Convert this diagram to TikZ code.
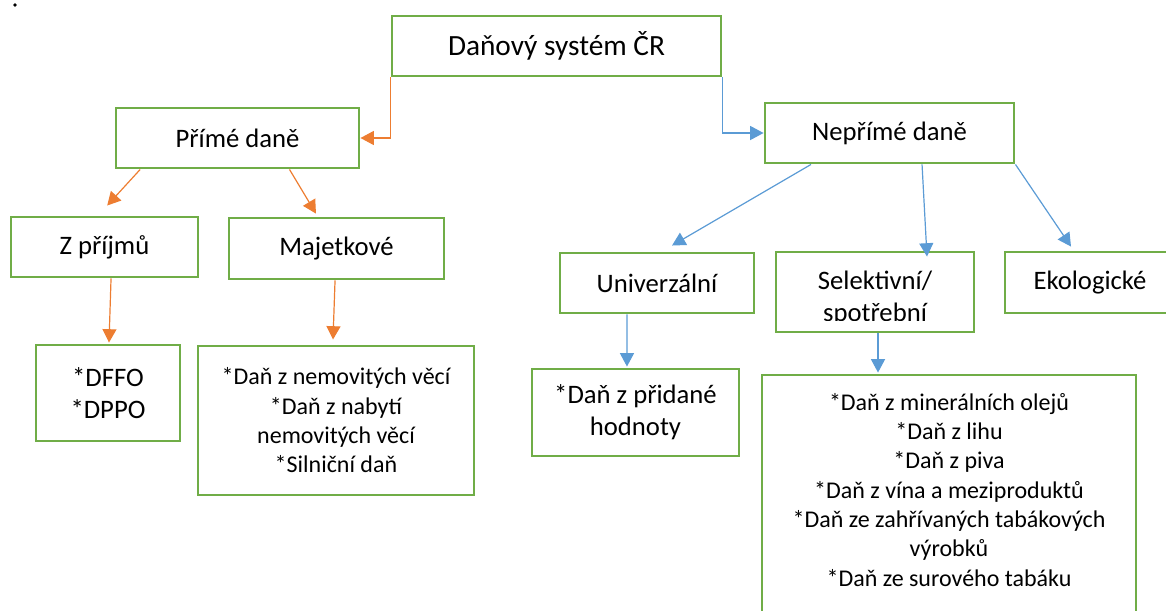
\documentclass[tikz,border=0pt]{standalone}
\usepackage{fontspec}
\setmainfont{Carlito}
\usetikzlibrary{arrows.meta}
\definecolor{boxgreen}{HTML}{70AD47}
\definecolor{linkorange}{HTML}{ED7D31}
\definecolor{linkblue}{HTML}{5B9BD5}
\tikzstyle{box} = [rectangle, draw=boxgreen, line width=2.2pt, inner sep=0pt, align=center, font=\fontsize{20}{24}\selectfont]
\tikzstyle{listbox} = [box, font=\fontsize{18}{22}\selectfont]
\tikzstyle{listtext} = [inner sep=0pt, align=center, font=\fontsize{18}{22}\selectfont]
\tikzstyle{orangearrow} = [draw=linkorange, line width=0.9pt, -{Triangle[length=10pt,width=10.5pt]}]
\tikzstyle{bluearrow} = [draw=linkblue, line width=0.9pt, -{Triangle[length=10pt,width=10.5pt]}]
\tikzset{wh/.style 2 args={minimum width=#1*0.75pt, minimum height=#2*0.75pt}}

\begin{document}
\begin{tikzpicture}[x=0.75pt, y=-0.75pt]
\clip (0,0) rectangle (1166,610);
\fill (15,5) circle (1.4pt);

% boxes
\node (top) [box, wh={329}{60}, font=\fontsize{22}{26}\selectfont] at (556.5,46) {Daňový systém ČR};
\node (prime) [box, wh={243}{60}] at (237.5,138) {Přímé daně};
\node (zprij) [box, wh={187}{60}] at (104.5,247) {Z příjmů};
\node (majet) [box, wh={215}{61}] at (336.5,248.5) {Majetkové};
\node (dffo) [box, wh={144}{96}] at (108,393) {*DFFO\\*DPPO};
\node (majlist) [listbox, wh={276}{149}] at (336,420.5) {*Daň z nemovitých věcí\\*Daň z nabytí\\nemovitých věcí\\*Silniční daň};
\node (neprime) [box, wh={249}{60}] at (889.5,133) {Nepřímé daně};
\node (univ) [box, wh={194}{60}] at (657,283) {Univerzální};
\node (sel) [box, wh={198}{80}] at (875,292) {};
\begin{scope}
\clip (778,254) rectangle (972,320);
\node (seltext) [inner sep=0pt, align=center, font=\fontsize{20}{24}\selectfont] at (875,298) {Selektivní/\\spotřební};
\end{scope}
\node (eko) [box, wh={170}{61}] at (1090,282.5) {Ekologické};
\node (dph) [box, wh={207}{87}] at (635.5,412.5) {*Daň z přidané\\hodnoty};
\node (biglist) [box, wh={374}{290}] at (949,520) {};
\node (biglisttext) [listtext, anchor=north] at (949,393) {*Daň z minerálních olejů\\*Daň z lihu\\*Daň z piva\\*Daň z vína a meziproduktů\\*Daň ze zahřívaných tabákových\\výrobků\\*Daň ze surového tabáku};

% connectors
\draw [orangearrow] (top.south west) |- (prime.east);
\draw [bluearrow] (top.south east) |- (neprime.west);
\draw [orangearrow] ([xshift=-73pt]prime.south) -- ([xshift=2pt,yshift=7.5pt]zprij.north);
\draw [orangearrow] ([xshift=39pt]prime.south) -- ([xshift=-15.4pt,yshift=2.2pt]majet.north);
\draw [orangearrow] ([xshift=4.9pt]zprij.south) -- ([xshift=0.75pt,yshift=0.75pt]dffo.north);
\draw [orangearrow] ([xshift=-1.1pt]majet.south) -- ([xshift=-2.25pt,yshift=3.75pt]majlist.north);
\draw [bluearrow] ([xshift=-58.9pt]neprime.south) -- ([xshift=11.25pt,yshift=4.5pt]univ.north);
\draw [bluearrow] ([xshift=24.4pt]neprime.south) -- ([xshift=39pt,yshift=-4.5pt]sel.north);
\draw [bluearrow] (neprime.south east) -- ([xshift=-14.25pt,yshift=3pt]eko.north);
\draw [bluearrow] ([xshift=-22.5pt]univ.south) -- ([xshift=-6.4pt,yshift=0.75pt]dph.north);
\draw [bluearrow] ([xshift=2.25pt]sel.south) -- ([xshift=-53.25pt,yshift=0.75pt]biglist.north);
\end{tikzpicture}
\end{document}
